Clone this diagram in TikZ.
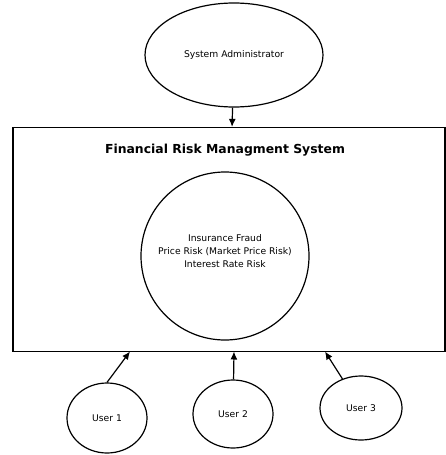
\documentclass[tikz,border=0pt]{standalone}
\usepackage{fontspec}
\setmainfont{DejaVu Sans}
\usetikzlibrary{positioning,calc,arrows.meta,shapes.geometric}

\begin{document}
\begin{tikzpicture}[x=1pt,y=-1pt,font=\fontsize{9.2}{13}\selectfont,>={Latex[length=8pt,width=7pt]},
      line width=1.2pt,
      actor/.style={draw,ellipse,inner sep=0pt,align=center},
      box/.style={draw,rectangle,minimum width=432pt,minimum height=224pt,inner sep=0pt}]
    \useasboundingbox (0,0) rectangle (446,455);
    \node[actor,minimum width=178pt,minimum height=104pt] (adm) at (234,55) {System Administrator};
    \node[box] (frms) at (229,239.5) {};
    \node[font=\fontsize{12.4}{14}\selectfont\bfseries] (title) at (225,150) {Financial Risk Managment System};
    \node[draw,circle,minimum size=168pt,inner sep=0pt,align=center] (risk) at (225,256)
      {Insurance Fraud\\Price Risk (Market Price Risk)\\Interest Rate Risk\\[-4pt]};
    \node[actor,minimum width=80pt,minimum height=70pt] (u1) at (107,418) {User 1};
    \node[actor,minimum width=80pt,minimum height=68pt] (u2) at (233,414) {User 2};
    \node[actor,minimum width=82pt,minimum height=64pt] (u3) at (361,408) {User 3};
    \coordinate (t1) at (130,351.5);
    \coordinate (t2) at (234,351.5);
    \coordinate (t3) at (325,351.5);
    \draw[->] (adm) -- (frms);
    \draw[->] (u1.north) -- (t1);
    \draw[->] (u2) -- (t2);
    \draw[->] (u3) -- (t3);
  \end{tikzpicture}
\end{document}
